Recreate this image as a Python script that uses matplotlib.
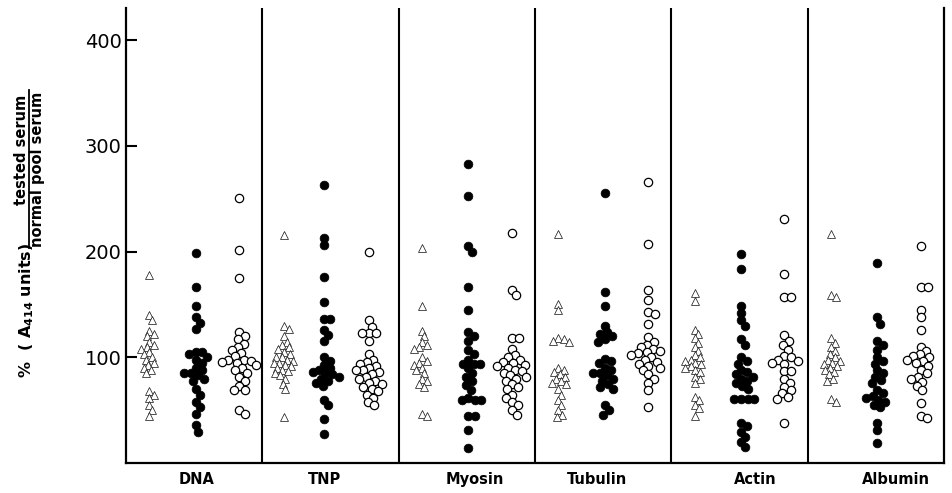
#!/usr/bin/env python
# -*- coding: utf-8 -*-

#  serum binding scatter: six antigens, three serum groups each

import numpy as np
import matplotlib
matplotlib.use('Agg')
import matplotlib.pyplot as plt
from matplotlib.lines import Line2D

antigens = ['DNA', 'TNP', 'Myosin', 'Tubulin', 'Actin', 'Albumin']

#  open triangles (first column of each panel)
dna_tri = [178, 140, 135, 125, 122, 120, 115, 112, 110, 108, 105, 103, 100, 98, 95, 93, 90, 88, 85, 68, 65, 62, 55, 50, 45]
tnp_tri = [216, 130, 127, 120, 115, 112, 110, 108, 105, 103, 100, 100, 98, 97, 95, 95, 93, 92, 90, 88, 87, 85, 83, 80, 75, 70, 44]
myo_tri = [203, 149, 125, 120, 115, 112, 110, 108, 100, 97, 95, 93, 90, 88, 85, 80, 78, 75, 72, 47, 45]
tub_tri = [217, 151, 145, 118, 117, 116, 115, 90, 88, 86, 84, 82, 80, 78, 76, 75, 70, 65, 60, 55, 50, 46, 44]
act_tri = [161, 153, 126, 122, 118, 114, 110, 106, 102, 100, 98, 97, 95, 94, 92, 90, 88, 86, 82, 80, 76, 63, 60, 55, 52, 45]
alb_tri = [217, 159, 157, 118, 114, 110, 106, 103, 100, 98, 97, 95, 94, 92, 90, 88, 86, 84, 80, 78, 61, 58]

#  filled circles (middle column)
dna_fill = [199, 167, 149, 138, 133, 127, 105, 105, 103, 100, 98, 95, 90, 88, 85, 85, 83, 80, 78, 70, 65, 58, 53, 47, 36, 30]
tnp_fill = [263, 213, 206, 176, 152, 136, 136, 126, 121, 116, 100, 97, 93, 90, 88, 86, 85, 84, 82, 80, 78, 76, 73, 60, 55, 42, 28]
myo_fill = [283, 253, 205, 200, 167, 145, 124, 120, 116, 107, 103, 98, 94, 94, 94, 90, 85, 82, 78, 74, 69, 62, 60, 60, 60, 45, 45, 31, 14]
tub_fill = [255, 162, 149, 130, 124, 122, 120, 117, 115, 99, 97, 95, 90, 88, 85, 85, 83, 80, 78, 75, 72, 70, 55, 50, 46]
act_fill = [198, 184, 149, 142, 135, 130, 117, 112, 100, 97, 94, 88, 86, 84, 82, 80, 78, 76, 73, 70, 61, 61, 61, 61, 38, 35, 30, 25, 20, 15]
alb_fill = [189, 138, 132, 116, 112, 107, 100, 97, 94, 88, 85, 82, 79, 76, 69, 66, 64, 62, 60, 58, 55, 53, 38, 31, 19]

#  open circles (right column)
dna_open = [251, 202, 175, 124, 120, 117, 113, 110, 107, 104, 101, 98, 98, 97, 96, 95, 93, 90, 88, 85, 82, 78, 73, 69, 69, 50, 47]
tnp_open = [200, 135, 129, 123, 123, 123, 116, 103, 98, 96, 94, 92, 90, 88, 88, 86, 84, 82, 80, 78, 76, 75, 72, 70, 68, 65, 62, 58, 55]
myo_open = [218, 164, 159, 118, 118, 108, 102, 100, 98, 96, 95, 93, 92, 90, 88, 87, 85, 83, 82, 80, 78, 75, 72, 70, 65, 62, 58, 55, 50, 46]
tub_open = [266, 207, 164, 154, 143, 141, 132, 119, 115, 112, 110, 108, 106, 105, 104, 102, 100, 98, 96, 94, 92, 90, 88, 84, 80, 76, 69, 53]
act_open = [231, 179, 157, 157, 121, 116, 112, 107, 101, 100, 98, 97, 95, 94, 87, 87, 80, 76, 72, 69, 66, 63, 61, 38]
alb_open = [205, 167, 167, 145, 138, 126, 110, 106, 103, 101, 100, 98, 97, 95, 92, 88, 85, 82, 80, 77, 73, 69, 57, 45, 43]

tri_sets = [dna_tri, tnp_tri, myo_tri, tub_tri, act_tri, alb_tri]
fill_sets = [dna_fill, tnp_fill, myo_fill, tub_fill, act_fill, alb_fill]
open_sets = [dna_open, tnp_open, myo_open, tub_open, act_open, alb_open]

# pixel scales of the figure (x: px per panel, y: px per % unit)
PX_X = 136.3
PX_Y = 1.06


def swarm(vals, diam):
    #  simple beeswarm, offsets in pixels (diam < marker size -> some overlap)
    ys = np.asarray(vals, dtype=float) * PX_Y
    xs = np.zeros(len(ys))
    placed = []
    for i in np.argsort(-ys, kind='stable'):
        y = ys[i]
        near = [(px, py) for px, py in placed if abs(py - y) < diam]
        cands = [0.0]
        for px, py in near:
            h = np.sqrt(diam ** 2 - (py - y) ** 2)
            cands += [px + h, px - h]
        cands.sort(key=abs)
        for c in cands:
            if all((c - px) ** 2 + (y - py) ** 2 >= diam ** 2 - 1e-6 for px, py in near):
                xs[i] = c
                break
        placed.append((xs[i], y))
    return xs / PX_X


fig = plt.figure(figsize=(9.53, 4.93), dpi=100)
ax = fig.add_axes([126 / 953, 29.7 / 493, 818 / 953, 455 / 493])

for i in range(len(antigens)):
    x0 = i + 0.17
    x1 = i + 0.51
    x2 = i + 0.83
    if antigens[i] == 'TNP':
        x0, x1, x2 = i + 0.16, i + 0.45, i + 0.78

    v = tri_sets[i]
    ax.plot(x0 + swarm(v, 5.8), v, linestyle='none', marker='^', ms=5.2,
            mfc='white', mec='#222222', mew=0.55)
    v = fill_sets[i]
    ax.plot(x1 + swarm(v, 6.8), v, linestyle='none', marker='o', ms=6.3,
            mfc='black', mec='black', mew=0.5)
    v = open_sets[i]
    ax.plot(x2 + swarm(v, 7.0), v, linestyle='none', marker='o', ms=6.0,
            mfc='white', mec='black', mew=0.9)

for b in range(1, len(antigens)):
    ax.axvline(b, color='black', lw=1.5)

ax.set_xlim(0, len(antigens))
ax.set_ylim(0, 430)
ax.set_xticks([])
ax.set_yticks([100, 200, 300, 400])
ax.tick_params(axis='y', direction='in', length=8, width=1.5, pad=3, labelsize=14)
ax.spines['top'].set_visible(False)
for s in ['left', 'bottom', 'right']:
    ax.spines[s].set_linewidth(1.6)

#  category names under each panel
label_px = [197, 325, 475, 597, 755, 896]
for name, px in zip(antigens, label_px):
    fig.text(px / 953, 1 - 484 / 493, name, ha='center', va='baseline',
             fontsize=10.5, fontweight='bold')

#  y label: % (A414 units) tested serum / normal pool serum
fig.text(27 / 953, 1 - 310 / 493, '%  ( A$_{\\mathbf{414}}$ units)', rotation=90,
         ha='center', va='center', fontsize=11.5, fontweight='bold')
fig.text(22 / 953, 1 - 150 / 493, 'tested serum', rotation=90,
         ha='center', va='center', fontsize=10.5, fontweight='bold')
fig.text(38 / 953, 1 - 169 / 493, 'normal pool serum', rotation=90,
         ha='center', va='center', fontsize=10.5, fontweight='bold')
fig.add_artist(Line2D([29.5 / 953, 29.5 / 953], [1 - 248 / 493, 1 - 90 / 493],
                      color='black', lw=1.3, transform=fig.transFigure))

plt.savefig('out.png', dpi=100)
